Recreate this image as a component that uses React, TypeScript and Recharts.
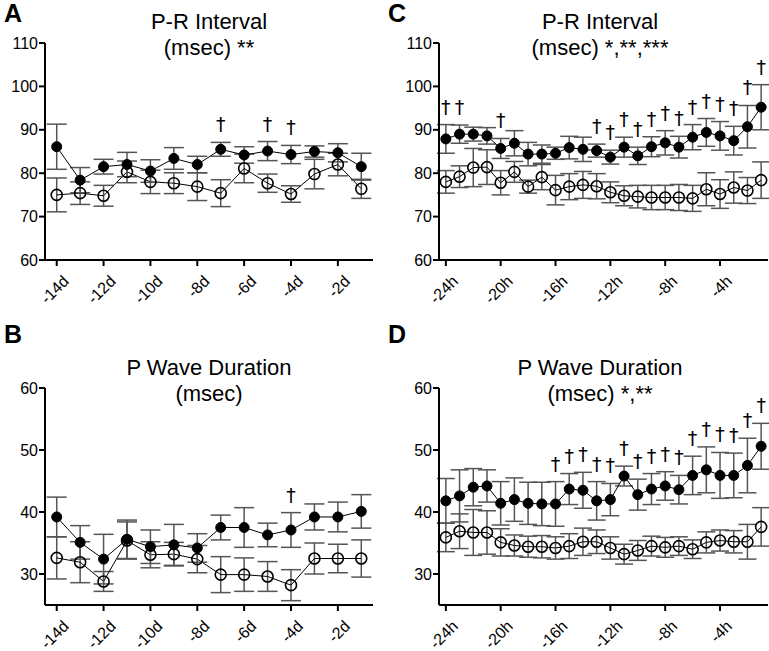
import React from 'react';
import { LineChart, Line, XAxis, YAxis, ErrorBar } from 'recharts';

const FONT = '"Liberation Sans", Arial, Helvetica, sans-serif';

// ---------- categories ----------
const days = [-14, -13, -12, -11, -10, -9, -8, -7, -6, -5, -4, -3, -2, -1];
const dayTicks = [-14, -12, -10, -8, -6, -4, -2];
const hours = [-24, -23, -22, -21, -20, -19, -18, -17, -16, -15, -14, -13, -12, -11, -10, -9, -8, -7, -6, -5, -4, -3, -2, -1];
const hourTicks = [-24, -20, -16, -12, -8, -4];
const prTicks = [60, 70, 80, 90, 100, 110];
const pwTicks = [30, 40, 50, 60];

// ---------- A: P-R interval, days ----------
const prFilledA = [86.1, 78.4, 81.5, 82.0, 80.5, 83.4, 82.0, 85.5, 84.2, 85.1, 84.3, 85.0, 84.7, 81.5];
const prFilledErrA = [5.2, 2.9, 1.7, 2.8, 2.6, 2.5, 1.9, 1.6, 1.9, 2.2, 2.1, 1.3, 2.1, 3.1];
const prOpenA = [75.0, 75.4, 74.8, 80.3, 78.0, 77.7, 76.9, 75.4, 81.1, 77.7, 75.2, 79.8, 82.0, 76.4];
const prOpenErrA = [3.9, 2.6, 2.4, 2.5, 2.7, 2.4, 3.2, 3.1, 3.3, 2.1, 1.9, 3.4, 2.6, 2.2];
const prDagA = [0, 0, 0, 0, 0, 0, 0, 1, 0, 1, 1, 0, 0, 0];

// ---------- C: P-R interval, hours ----------
const prFilledC = [87.9, 89.0, 89.0, 88.6, 85.7, 86.9, 84.4, 84.4, 84.6, 85.9, 85.5, 85.2, 83.7, 86.0, 84.0, 86.1, 87.0, 86.0, 88.3, 89.4, 88.6, 87.5, 90.7, 95.2];
const prFilledErrC = [3.3, 2.1, 1.6, 1.9, 2.3, 2.9, 2.7, 2.1, 1.4, 2.6, 2.8, 1.5, 1.6, 2.3, 2.0, 2.3, 2.8, 2.5, 2.9, 3.2, 3.3, 3.3, 4.9, 5.2];
const prOpenC = [78.0, 79.2, 81.3, 81.4, 77.8, 80.3, 76.9, 79.1, 76.1, 76.9, 77.3, 77.0, 75.6, 74.8, 74.6, 74.4, 74.4, 74.4, 74.2, 76.3, 75.2, 76.7, 76.0, 78.4];
const prOpenErrC = [2.6, 2.5, 4.4, 4.0, 2.8, 2.4, 1.5, 2.9, 3.4, 3.0, 3.1, 2.9, 2.4, 2.3, 2.6, 2.8, 2.8, 3.0, 3.0, 3.8, 3.3, 3.6, 3.0, 4.2];
const prDagC = [1, 1, 0, 0, 1, 0, 0, 0, 0, 0, 0, 1, 1, 1, 1, 1, 1, 1, 1, 1, 1, 1, 1, 1];

// ---------- B: P wave duration, days ----------
const pwFilledB = [39.2, 35.1, 32.4, 35.6, 34.4, 34.7, 34.2, 37.5, 37.5, 36.3, 37.1, 39.2, 39.2, 40.1];
const pwFilledErrB = [3.2, 2.7, 4.0, 3.1, 2.7, 3.3, 2.3, 2.0, 3.2, 1.9, 2.8, 2.1, 2.4, 2.7];
const pwOpenB = [32.6, 31.9, 28.8, 35.4, 33.1, 33.2, 32.4, 29.9, 29.9, 29.6, 28.2, 32.5, 32.5, 32.5];
const pwOpenErrB = [3.4, 3.3, 1.6, 3.0, 2.1, 1.9, 2.2, 2.9, 2.7, 2.4, 2.5, 2.5, 2.3, 3.0];
const pwDagB = [0, 0, 0, 0, 0, 0, 0, 0, 0, 0, 1, 0, 0, 0];

// ---------- D: P wave duration, hours ----------
const pwFilledD = [41.8, 42.6, 44.0, 44.2, 41.4, 42.0, 41.4, 41.3, 41.3, 43.7, 43.5, 41.8, 42.0, 45.8, 42.8, 43.7, 44.2, 43.6, 45.9, 46.8, 45.9, 45.9, 47.5, 50.6];
const pwFilledErrD = [3.6, 4.2, 3.0, 2.6, 3.5, 3.5, 3.4, 3.5, 3.6, 2.5, 2.9, 3.1, 2.6, 1.6, 2.5, 2.5, 2.3, 2.3, 3.1, 3.7, 3.7, 3.6, 4.4, 3.7];
const pwOpenD = [35.9, 36.9, 36.7, 36.7, 35.1, 34.6, 34.4, 34.4, 34.2, 34.5, 35.2, 35.2, 34.2, 33.2, 33.8, 34.5, 34.3, 34.5, 34.0, 35.1, 35.4, 35.2, 35.2, 37.6];
const pwOpenErrD = [2.3, 2.8, 3.7, 3.5, 2.2, 1.7, 1.7, 1.8, 1.8, 2.0, 2.2, 1.9, 1.8, 1.6, 1.6, 1.6, 1.6, 1.5, 1.5, 1.7, 1.7, 1.8, 2.8, 3.1];
const pwDagD = [0, 0, 0, 0, 0, 0, 0, 0, 1, 1, 1, 1, 1, 1, 1, 1, 1, 1, 1, 1, 1, 1, 1, 1];

function build(xs: number[], f: number[], fe: number[], o: number[], oe: number[], dag: number[]) {
  return xs.map((x, i) => ({
    x,
    f: f[i],
    fe: fe[i],
    o: o[i],
    oe: oe[i],
    dag: dag[i] ? f[i] + fe[i] : null,
  }));
}

const dataA = build(days, prFilledA, prFilledErrA, prOpenA, prOpenErrA, prDagA);
const dataC = build(hours, prFilledC, prFilledErrC, prOpenC, prOpenErrC, prDagC);
const dataB = build(days, pwFilledB, pwFilledErrB, pwOpenB, pwOpenErrB, pwDagB);
const dataD = build(hours, pwFilledD, pwFilledErrD, pwOpenD, pwOpenErrD, pwDagD);

const XTick = (props: any) => {
  const { x, y, payload, suffix } = props;
  const ax = x + 5;
  const ay = y + 6;
  return (
    <text
      x={ax}
      y={ay}
      transform={`rotate(-45 ${ax} ${ay})`}
      textAnchor="end"
      fontSize={16}
      fontFamily={FONT}
      fill="#000"
      dy="0.72em"
    >
      {`${payload.value}${suffix}`}
    </text>
  );
};

const Dagger = (props: any) => {
  const { cx, cy, value } = props;
  if (value == null || cy == null || Number.isNaN(cy)) return <g />;
  return (
    <text x={cx} y={cy - 11} textAnchor="middle" fontSize={19} fontFamily='"DejaVu Sans", sans-serif' fill="#000">
      †
    </text>
  );
};

type PanelProps = {
  left: number;
  top: number;
  width: number;
  height: number;
  yw: number;
  margin: { top: number; right: number; bottom: number; left: number };
  data: any[];
  xDomain: [number, number];
  xTicks: number[];
  yDomain: [number, number];
  yTicks: number[];
  suffix: string;
  capW: number;
};

function Panel(p: PanelProps) {
  return (
    <div style={{ position: 'absolute', left: p.left, top: p.top }}>
      <LineChart width={p.width} height={p.height} data={p.data} margin={p.margin} style={{ overflow: 'visible' }}>
        <XAxis
          type="number"
          dataKey="x"
          domain={p.xDomain}
          ticks={p.xTicks}
          interval={0}
          height={40}
          allowDataOverflow
          axisLine={{ stroke: '#000', strokeWidth: 2 }}
          tickLine={{ stroke: '#000', strokeWidth: 2 }}
          tickSize={6}
          tick={<XTick suffix={p.suffix} />}
        />
        <YAxis
          type="number"
          domain={p.yDomain}
          ticks={p.yTicks}
          interval={0}
          width={p.yw}
          allowDataOverflow
          axisLine={{ stroke: '#000', strokeWidth: 2 }}
          tickLine={{ stroke: '#000', strokeWidth: 2 }}
          tickSize={6}
          tickMargin={1}
          tick={{ fill: '#000', fontSize: 16, fontFamily: FONT }}
        />
        <Line
          dataKey="o"
          stroke="#000"
          strokeWidth={1}
          isAnimationActive={false}
          dot={{ r: 5.5, fill: 'none', stroke: '#000', strokeWidth: 1.6 }}
        >
          <ErrorBar dataKey="oe" width={p.capW} stroke="#555" strokeWidth={1.5} direction="y" />
        </Line>
        <Line
          dataKey="f"
          stroke="#000"
          strokeWidth={1}
          isAnimationActive={false}
          dot={{ r: 5, fill: '#000', stroke: '#000', strokeWidth: 1 }}
        >
          <ErrorBar dataKey="fe" width={p.capW} stroke="#555" strokeWidth={1.5} direction="y" />
        </Line>
        <Line dataKey="dag" stroke="none" isAnimationActive={false} dot={<Dagger />} activeDot={false} />
      </LineChart>
    </div>
  );
}

const titleStyle = { fontSize: 22, fontFamily: FONT, fill: '#000' } as const;
const letterStyle = { fontSize: 25, fontFamily: FONT, fontWeight: 700, fill: '#000' } as const;

export default function App() {
  return (
    <div style={{ position: 'absolute', left: 0, top: 0, width: 769, height: 651, background: '#fff', overflow: 'hidden' }}>
      <Panel left={0} top={0} width={385} height={325} yw={45} margin={{ top: 43, right: 12, bottom: 25, left: 0 }}
        data={dataA} xDomain={[-14.5, -0.5]} xTicks={dayTicks} yDomain={[60, 110]} yTicks={prTicks} suffix="d" capW={10} />
      <Panel left={385} top={0} width={384} height={325} yw={54} margin={{ top: 43, right: 1, bottom: 25, left: 0 }}
        data={dataC} xDomain={[-24.5, -0.5]} xTicks={hourTicks} yDomain={[60, 110]} yTicks={prTicks} suffix="h" capW={9} />
      <Panel left={0} top={325} width={385} height={326} yw={45} margin={{ top: 63, right: 12, bottom: 6, left: 0 }}
        data={dataB} xDomain={[-14.5, -0.5]} xTicks={dayTicks} yDomain={[25, 60]} yTicks={pwTicks} suffix="d" capW={10} />
      <Panel left={385} top={325} width={384} height={326} yw={54} margin={{ top: 63, right: 1, bottom: 6, left: 0 }}
        data={dataD} xDomain={[-24.5, -0.5]} xTicks={hourTicks} yDomain={[25, 60]} yTicks={pwTicks} suffix="h" capW={9} />
      <svg width={769} height={651} style={{ position: 'absolute', left: 0, top: 0, pointerEvents: 'none' }}>
        <text x={4} y={22} {...letterStyle}>A</text>
        <text x={388} y={22} {...letterStyle}>C</text>
        <text x={4} y={343} {...letterStyle}>B</text>
        <text x={388} y={343} {...letterStyle}>D</text>
        <text x={209} y={21} textAnchor="middle" dominantBaseline="central" {...titleStyle}>P-R Interval</text>
        <text x={209} y={47} textAnchor="middle" dominantBaseline="central" {...titleStyle}>(msec) **</text>
        <text x={600} y={21} textAnchor="middle" dominantBaseline="central" {...titleStyle}>P-R Interval</text>
        <text x={600} y={47} textAnchor="middle" dominantBaseline="central" {...titleStyle}>(msec) *,**,***</text>
        <text x={209} y={367} textAnchor="middle" dominantBaseline="central" {...titleStyle}>P Wave Duration</text>
        <text x={209} y={393} textAnchor="middle" dominantBaseline="central" {...titleStyle}>(msec)</text>
        <text x={600} y={367} textAnchor="middle" dominantBaseline="central" {...titleStyle}>P Wave Duration</text>
        <text x={600} y={393} textAnchor="middle" dominantBaseline="central" {...titleStyle}>(msec) *,**</text>
      </svg>
    </div>
  );
}
